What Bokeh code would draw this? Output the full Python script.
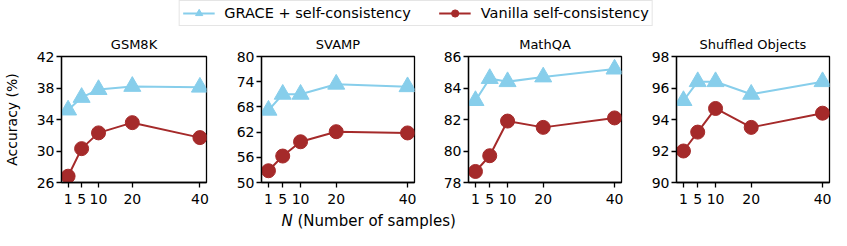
from bokeh.plotting import figure
from bokeh.layouts import column, row
from bokeh.models import Range1d, FixedTicker, Legend, LegendItem, Label
from bokeh.embed import file_html
from bokeh.resources import INLINE

FONT = "DejaVu Sans"
BLUE = "#87CEEB"
RED = "#A52A2A"

samples = [1, 5, 10, 20, 40]
titles = ["GSM8K", "SVAMP", "MathQA", "Shuffled Objects"]
grace = [
    [35.2, 36.8, 37.8, 38.2, 38.1],
    [67.2, 71.0, 71.0, 73.4, 72.8],
    [83.2, 84.6, 84.4, 84.7, 85.2],
    [95.2, 96.4, 96.4, 95.6, 96.4],
]
vanilla = [
    [26.8, 30.3, 32.3, 33.6, 31.7],
    [52.8, 56.3, 59.7, 62.1, 61.8],
    [78.7, 79.7, 81.9, 81.5, 82.1],
    [92.0, 93.2, 94.7, 93.5, 94.4],
]
y_limits = [(26, 42), (50, 80), (78, 86), (90, 98)]
y_ticks = [
    [26, 30, 34, 38, 42],
    [50, 56, 62, 68, 74, 80],
    [78, 80, 82, 84, 86],
    [90, 92, 94, 96, 98],
]
legend_labels = ["GRACE + self-consistency", "Vanilla self-consistency"]

FRAME_W = 153
FRAME_H = 126
lefts = [53, 43, 42, 43]
rights = [12, 12, 12, 2]

figs = []
for i in range(4):
    w = lefts[i] + FRAME_W + rights[i]
    p = figure(width=w, height=30 + FRAME_H + 27, output_backend="svg",
               toolbar_location=None, title=titles[i],
               x_range=Range1d(-0.95, 41.95),
               y_range=Range1d(*y_limits[i]),
               min_border_left=lefts[i], min_border_right=rights[i],
               min_border_top=30, min_border_bottom=27)
    p.title.text_font = FONT
    p.title.text_font_size = "13px"
    p.title.text_font_style = "normal"
    p.title.text_color = "black"
    p.title.align = "center"
    p.title.standoff = 10
    p.xgrid.visible = False
    p.ygrid.visible = False
    p.outline_line_color = "black"
    p.outline_line_width = 1.3
    p.outline_line_alpha = 1
    for ax in (p.xaxis[0], p.yaxis[0]):
        ax.axis_line_color = "black"
        ax.axis_line_width = 1.3
        ax.major_tick_line_color = "black"
        ax.major_tick_line_width = 1.3
        ax.major_tick_in = 0
        ax.major_tick_out = 5
        ax.minor_tick_line_color = None
        ax.major_label_text_font = FONT
        ax.major_label_text_font_size = "14px"
        ax.major_label_text_color = "black"
    p.xaxis.ticker = FixedTicker(ticks=samples)
    p.xaxis.major_label_standoff = 6
    p.yaxis.ticker = FixedTicker(ticks=y_ticks[i])
    p.yaxis.major_label_standoff = 2
    if i == 0:
        p.yaxis.axis_label = "Accuracy (%)"
        p.yaxis.axis_label_text_font = FONT
        p.yaxis.axis_label_text_font_size = "14px"
        p.yaxis.axis_label_text_font_style = "normal"
        p.yaxis.axis_label_text_color = "black"
        p.yaxis.axis_label_standoff = 14
    p.line(samples, grace[i], line_color=BLUE, line_width=2)
    p.scatter(samples, grace[i], marker="triangle", size=17,
              fill_color=BLUE, line_color=BLUE)
    p.line(samples, vanilla[i], line_color=RED, line_width=2)
    p.scatter(samples, vanilla[i], marker="circle", size=14,
              fill_color=RED, line_color=RED)
    figs.append(p)

total_w = sum(f.width for f in figs)

# legend strip
lg = figure(width=total_w, height=26, output_backend="svg", toolbar_location=None,
            x_range=Range1d(0, 1), y_range=Range1d(0, 1),
            min_border=0, outline_line_color=None)
lg.axis.visible = False
lg.grid.visible = False
dummy = [-5, -4]
l1 = lg.line(dummy, dummy, line_color=BLUE, line_width=2)
s1 = lg.scatter(dummy, dummy, marker="triangle", size=17, fill_color=BLUE, line_color=BLUE)
l2 = lg.line(dummy, dummy, line_color=RED, line_width=2)
s2 = lg.scatter(dummy, dummy, marker="circle", size=14, fill_color=RED, line_color=RED)
legend = Legend(items=[LegendItem(label=legend_labels[0], renderers=[l1, s1]),
                       LegendItem(label=legend_labels[1], renderers=[l2, s2])],
                orientation="horizontal", location="center",
                label_text_font=FONT, label_text_font_size="14.5px",
                label_text_color="black",
                glyph_width=32, glyph_height=18, label_standoff=10, spacing=28,
                padding=3, margin=0, border_line_color="#cccccc",
                border_line_width=1.3, background_fill_alpha=1)
lg.add_layout(legend, "center")

# x label strip
xl = figure(width=total_w, height=21, output_backend="svg", toolbar_location=None,
            x_range=Range1d(0, 1), y_range=Range1d(0, 1),
            min_border=0, outline_line_color=None)
xl.axis.visible = False
xl.grid.visible = False
xl.add_layout(Label(x=281, y=10, x_units="screen", y_units="screen", text="N",
                    text_font=FONT, text_font_size="15px", text_font_style="italic",
                    text_color="black", text_baseline="middle", text_align="left"))
xl.add_layout(Label(x=297, y=10, x_units="screen", y_units="screen",
                    text="(Number of samples)", text_color="black",
                    text_font=FONT, text_font_size="15px",
                    text_baseline="middle", text_align="left"))

layout = column(lg, row(*figs), xl)
open("out.html", "w").write(file_html(layout, INLINE))
